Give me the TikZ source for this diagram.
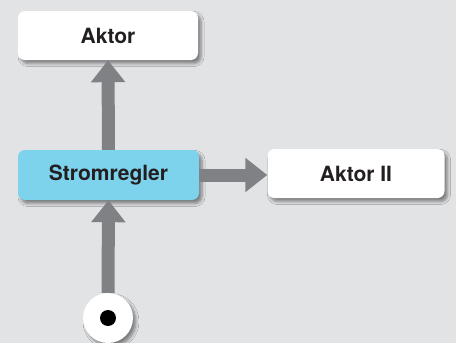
\documentclass[tikz,border=0pt]{standalone}
\usepackage{fontspec}
\setmainfont{TeX Gyre Heros}
\usetikzlibrary{arrows.meta,shadows.blur}
\definecolor{bgcol}{RGB}{226,227,229}
\definecolor{arrowcol}{RGB}{128,129,133}
\definecolor{regcol}{RGB}{125,210,236}
\definecolor{txtcol}{RGB}{35,31,32}
\tikzset{
  softshadow/.style={blur shadow={shadow xshift=3pt, shadow yshift=-3.5pt,
      shadow blur radius=3pt, shadow blur steps=6, shadow opacity=45}},
  box/.style={rectangle, rounded corners=7pt, inner sep=0pt,
    minimum width=180pt, minimum height=49pt, fill=white,
    font=\fontsize{21}{25}\selectfont\bfseries, text=txtcol, softshadow},
  flow/.style={draw=arrowcol, line width=13pt,
    -{Triangle[width=33pt,length=22pt]}, arrowcol},
}
\begin{document}
\begin{tikzpicture}[x=1pt,y=-1pt]
  % canvas
  \fill[bgcol] (0,0) rectangle (456,343);
  \useasboundingbox (0,0) rectangle (456,343);
  % blocks
  \node[box] (aktor) at (108,35.5) {Aktor};
  \node[box, fill=regcol, minimum width=181pt, minimum height=50pt] (regler) at (108.5,175) {Stromregler};
  \node[box, minimum width=177pt] (aktor2) at (356,173.5) {Aktor II};
  % input terminal
  \node[circle, fill=white, minimum size=50pt, inner sep=0pt, softshadow] (src) at (108,318) {};
  \node[circle, fill=black, minimum size=16pt, inner sep=0pt] (dot) at (src.center) {};
  % signal flow
  \draw[flow] (src.north) -- (regler.south);
  \draw[flow] (regler.north) -- (aktor.south);
  \draw[flow] (regler.east) -- (aktor2.west |- regler.east);
\end{tikzpicture}
\end{document}
